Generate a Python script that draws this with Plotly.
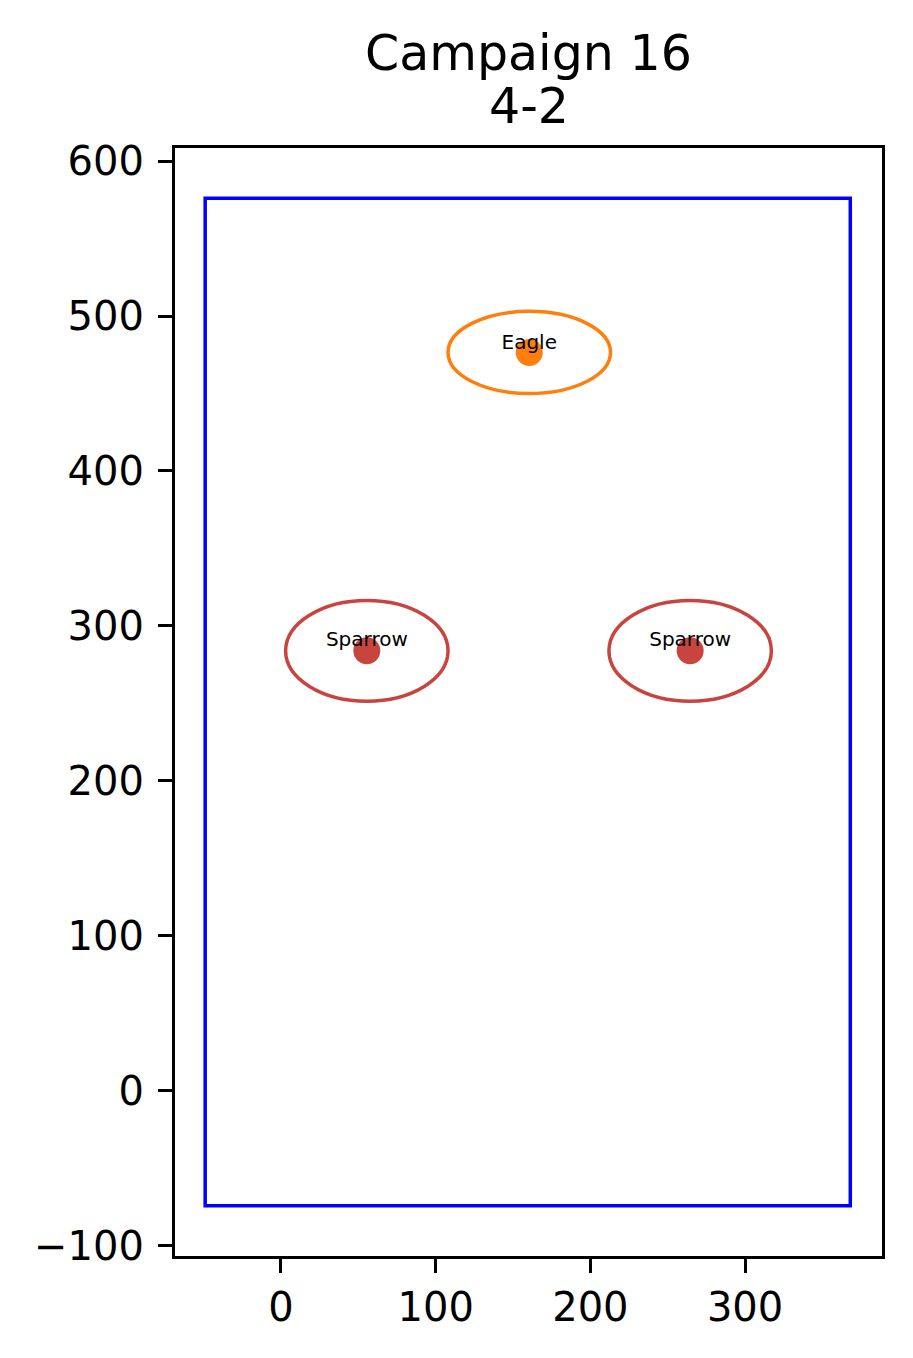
import plotly.graph_objects as go

# Data
birds = ["Eagle", "Sparrow", "Sparrow"]
bird_x = [160.5, 55.5, 264.5]
bird_y = [476.5, 284.0, 284.0]
label_y = [481.8, 290.2, 290.2]
ellipse_w = [105, 105, 105]
ellipse_h = [53, 65, 65]
bird_colors = ["#ff7f0e", "#c8443f", "#c8443f"]
field_x = [-49, 368]
field_y = [-74, 576]
x_ticks = [0, 100, 200, 300]
y_ticks = [-100, 0, 100, 200, 300, 400, 500, 600]
x_range = [-68.5, 388.5]
y_range = [-106.5, 608.4]
title_lines = ["Campaign 16", "4-2"]

FONT = "DejaVu Sans"
PLOT_H = 1108

fig = go.Figure()

fig.add_trace(go.Scatter(
    x=bird_x, y=bird_y, mode="markers",
    marker=dict(size=27, color=bird_colors, line=dict(width=0)),
    showlegend=False, hoverinfo="skip"))

fig.add_trace(go.Scatter(
    x=bird_x, y=label_y, mode="text", text=birds,
    textposition="middle center",
    textfont=dict(family=FONT, size=20, color="black"),
    showlegend=False, hoverinfo="skip"))

shapes = [dict(type="rect", xref="x", yref="y",
               x0=field_x[0], x1=field_x[1], y0=field_y[0], y1=field_y[1],
               line=dict(color="blue", width=3.5), layer="below")]
for x, y, w, h, c in zip(bird_x, bird_y, ellipse_w, ellipse_h, bird_colors):
    shapes.append(dict(type="circle", xref="x", yref="y",
                       x0=x - w / 2, x1=x + w / 2, y0=y - h / 2, y1=y + h / 2,
                       line=dict(color=c, width=3.5), layer="below"))

annotations = []
for txt, off in zip(title_lines, [95, 41]):
    annotations.append(dict(text=txt, xref="paper", yref="paper", x=0.5,
                            y=1 + off / PLOT_H, xanchor="center", yanchor="middle",
                            showarrow=False,
                            font=dict(family=FONT, size=49, color="black")))

fig.update_layout(
    width=905, height=1350,
    margin=dict(l=167, r=31, t=140, b=102),
    paper_bgcolor="white", plot_bgcolor="white",
    shapes=shapes, annotations=annotations,
    font=dict(family=FONT, color="black"),
)
axis_common = dict(showgrid=False, zeroline=False, showline=True, linecolor="black",
                   linewidth=3.3, mirror=True, ticks="outside", ticklen=14,
                   tickwidth=3, tickcolor="black",
                   tickfont=dict(family=FONT, size=40, color="black"))
fig.update_xaxes(range=x_range, tickvals=x_ticks, **axis_common)
fig.update_yaxes(range=y_range, tickvals=y_ticks, ticklabelstandoff=6, **axis_common)

fig.write_html("out.html")
